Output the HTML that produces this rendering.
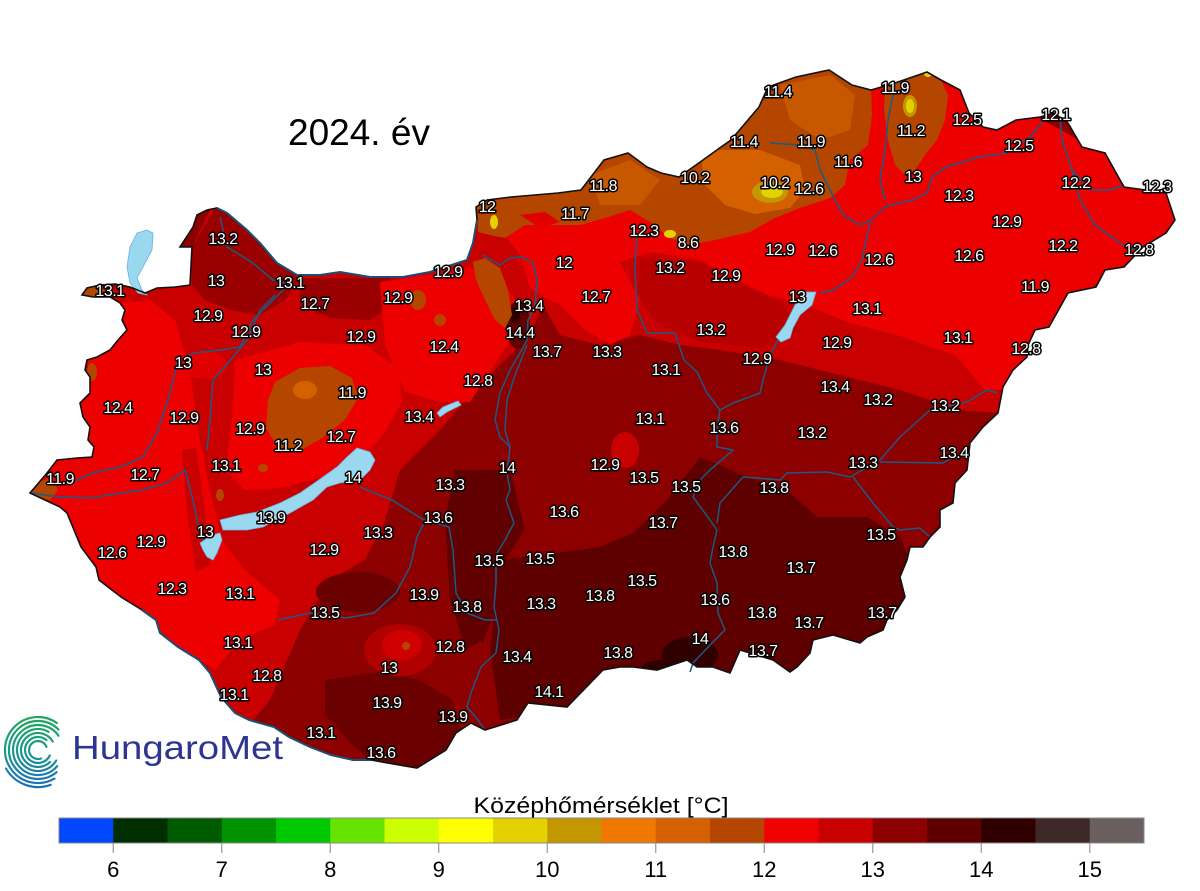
<!DOCTYPE html>
<html><head><meta charset="utf-8"><style>
html,body{margin:0;padding:0;background:#fff;}
svg{display:block;}
.l text{font-family:"Liberation Sans",Arial,sans-serif;font-size:16px;letter-spacing:-0.5px;fill:#fff;stroke:#000;stroke-width:3px;stroke-linejoin:round;paint-order:stroke;text-anchor:middle;}
</style></head><body>
<svg width="1200" height="891" viewBox="0 0 1200 891" xmlns="http://www.w3.org/2000/svg">
<defs>
<clipPath id="hu"><path id="hup" d="M30,493 L47,473 57,460 77,458 92,457 94,447 88,440 90,427 83,417 80,403 90,393 90,377 85,370 87,360 97,357 110,350 118,340 127,330 122,320 125,310 120,303 110,297 93,297 82,295 87,288 100,285 115,284 130,287 145,293 157,288 175,287 190,285 192,247 180,247 193,227 197,215 207,210 217,208 227,213 247,230 260,243 277,263 297,275 320,275 340,272 370,277 403,277 430,272 467,260 473,243 477,220 476,207 487,200 511,197 558,193 581,190 604,160 628,153 647,167 661,173 679,177 703,160 721,147 731,140 759,107 768,87 796,77 829,70 852,85 871,90 895,83 927,72 941,80 960,90 969,113 983,127 997,130 1016,120 1040,117 1054,113 1068,123 1082,147 1105,153 1124,187 1166,193 1175,220 1166,233 1143,247 1124,267 1105,270 1096,287 1068,293 1049,327 1035,330 1028,345 1027,357 1013,370 1003,387 998,413 983,427 970,443 967,470 955,483 953,503 940,510 940,527 930,537 923,547 910,547 907,560 900,577 905,597 897,610 887,620 883,630 867,637 860,643 833,635 813,640 810,653 797,667 790,672 773,660 740,650 730,673 713,667 697,667 687,660 657,670 633,667 620,667 603,670 567,707 528,703 517,720 485,730 471,723 456,733 446,750 417,768 399,765 371,760 353,760 331,755 310,747 289,737 274,727 249,720 235,713 221,697 210,673 199,660 178,647 160,633 156,620 142,610 121,597 99,580 96,567 81,547 67,513 60,507 45,500 Z"/></clipPath>
<linearGradient id="lg" x1="0" y1="716" x2="0" y2="786" gradientUnits="userSpaceOnUse">
<stop offset="0" stop-color="#23a65a"/><stop offset="0.5" stop-color="#1a9a8a"/><stop offset="1" stop-color="#1f6fb8"/></linearGradient>
</defs>
<rect width="1200" height="891" fill="#fff"/>

<text x="288" y="145" font-family="Liberation Sans,Arial,sans-serif" font-size="37" fill="#000">2024. év</text>

<g clip-path="url(#hu)">
<rect x="0" y="0" width="1200" height="800" fill="#8c0000"/>
<path fill="#c80000" d="M20,490 L80,400 L70,290 L190,280 L195,240 L215,200 L280,255 L340,265 L430,265 L480,210 L530,250 L545,300 L530,335 L505,360 L470,395 L440,430 L400,470 L385,520 L365,560 L330,580 L300,630 L270,700 L245,730 L150,650 L60,520 Z"/>
<path fill="#c80000" d="M477,200 L1180,190 L1180,240 L1049,327 L998,413 L960,410 L900,390 L840,375 L780,360 L720,350 L680,345 L640,335 L600,345 L560,335 L540,300 L520,255 Z"/>
<path fill="#9a0000" d="M192,247 L217,205 L250,230 L280,262 L300,278 L285,300 L260,315 L230,310 L205,300 L192,285 Z"/>
<path fill="#9a0000" d="M300,278 L390,278 L400,300 L370,320 L330,318 L300,305 Z"/>
<path fill="#ec0000" d="M20,490 L57,460 L92,457 L88,440 L80,403 L90,377 L87,360 L110,350 L127,330 L120,303 L150,300 L175,320 L190,370 L198,430 L210,490 L222,540 L245,570 L280,600 L275,625 L240,640 L215,670 L160,635 L100,582 L70,520 Z"/>
<path fill="#c80000" d="M182,450 L196,448 L206,520 L210,565 L196,572 L188,520 Z"/>
<path fill="#ec0000" d="M235,360 L300,342 L365,345 L398,368 L402,402 L385,432 L360,462 L320,478 L280,488 L245,490 L225,470 L232,420 Z"/>
<path fill="#ec0000" d="M380,282 L470,268 L500,278 L515,300 L510,340 L490,372 L470,402 L440,402 L405,392 L385,345 Z"/>
<path fill="#ec0000" d="M477,200 L600,150 L760,75 L960,75 L1180,195 L1180,235 L1100,280 L1049,327 L1003,390 L985,390 L955,355 L900,336 L850,323 L800,303 L770,296 L740,282 L700,260 L650,252 L620,262 L640,300 L630,335 L610,345 L585,330 L560,305 L545,298 L530,288 L520,255 Z"/>
<path fill="#b80000" d="M640,258 L700,262 L740,284 L780,302 L800,330 L760,348 L700,342 L655,322 L638,292 Z"/>
<ellipse cx="625" cy="450" rx="14" ry="18" fill="#c80000"/>
<ellipse cx="205" cy="365" rx="22" ry="14" fill="#e00000"/>
<ellipse cx="518" cy="325" rx="12" ry="24" fill="#5e0000"/>
<ellipse cx="514" cy="315" rx="6" ry="8" fill="#300000"/>
<path fill="#600000" d="M455,470 L480,470 L487,560 L482,640 L466,650 L450,600 L445,520 Z"/>
<path fill="#5e0000" d="M600,547 L633,533 L667,500 L700,457 L747,477 L787,490 L817,517 L867,517 L900,537 L910,560 L910,660 L500,720 L490,650 L495,600 L500,560 L540,555 Z"/>
<path fill="#600000" d="M480,470 L510,470 L525,530 L505,560 L495,610 L482,645 L472,600 L476,530 Z"/>
<path fill="#6a0000" d="M325,680 L380,672 L420,680 L452,700 L462,732 L446,752 L417,770 L399,767 L371,762 L350,742 L325,715 Z"/>
<ellipse cx="358" cy="592" rx="42" ry="20" fill="#6a0000"/>
<ellipse cx="400" cy="650" rx="36" ry="26" fill="#b00000"/>
<ellipse cx="402" cy="645" rx="20" ry="15" fill="#d00000"/>
<ellipse cx="406" cy="646" rx="4" ry="4" fill="#b44600"/>
<ellipse cx="690" cy="655" rx="28" ry="18" fill="#300000"/>
<ellipse cx="660" cy="668" rx="18" ry="8" fill="#300000"/>
<path fill="#b44600" d="M477,205 L487,200 L511,197 L558,193 L581,190 L604,160 L628,153 L647,167 L661,173 L679,177 L703,160 L721,147 L731,140 L759,107 L768,87 L796,77 L829,70 L852,85 L871,90 L872,115 L868,145 L850,160 L845,185 L830,198 L800,208 L775,218 L750,232 L715,240 L690,245 L670,238 L650,222 L630,210 L605,218 L580,225 L550,225 L525,225 L505,238 L490,235 L478,232 Z"/>
<path fill="#e00000" d="M520,215 L545,212 L560,222 L540,228 Z"/>
<path fill="#d46000" d="M700,150 L760,150 L800,165 L805,190 L790,208 L755,214 L725,205 L705,185 Z"/>
<path fill="#c85800" d="M780,85 L830,75 L855,95 L850,130 L820,140 L790,120 Z"/>
<path fill="#c85800" d="M590,175 L630,160 L660,180 L640,205 L600,205 Z"/>
<ellipse cx="770" cy="192" rx="18" ry="11" fill="#c49600"/>
<ellipse cx="772" cy="192" rx="11" ry="6" fill="#e4d200"/>
<ellipse cx="494" cy="222" rx="4" ry="7" fill="#e4d200"/>
<ellipse cx="670" cy="234" rx="6" ry="4" fill="#e4d200"/>
<path fill="#b44600" d="M885,85 L927,72 L941,80 L948,95 L945,120 L937,140 L925,155 L915,170 L905,175 L895,165 L888,140 L884,110 Z"/>
<ellipse cx="910" cy="106" rx="7" ry="11" fill="#c49600"/>
<ellipse cx="910" cy="106" rx="4" ry="7" fill="#e4d200"/>
<ellipse cx="928" cy="74" rx="4" ry="3" fill="#e4d200"/>
<path fill="#b44600" d="M473,262 L485,258 L500,268 L508,290 L512,315 L505,328 L495,320 L485,300 L476,280 Z"/>
<ellipse cx="418" cy="300" rx="8" ry="10" fill="#b44600"/>
<ellipse cx="440" cy="320" rx="6" ry="6" fill="#b44600"/>
<path fill="#b44600" d="M275,382 L300,368 L330,366 L352,378 L358,398 L345,420 L322,438 L298,452 L278,448 L266,428 L268,400 Z"/>
<ellipse cx="305" cy="390" rx="12" ry="9" fill="#d46000"/>
<ellipse cx="263" cy="468" rx="5" ry="4" fill="#b44600"/>
<ellipse cx="220" cy="495" rx="4" ry="6" fill="#b44600"/>
<path fill="#b44600" d="M20,492 L38,482 L52,478 L58,490 L50,500 L38,498 Z"/>
<path fill="#b44600" d="M78,296 L87,288 L100,284 L106,292 L98,300 L86,299 Z"/>
<ellipse cx="92" cy="372" rx="5" ry="9" fill="#b44600"/>
</g>

<g fill="none" stroke="#1c5a85" stroke-width="1.5" stroke-linejoin="round">
<path d="M482,255 L500,265 L510,258 L522,257 L533,263 L537,280 L535,307 L528,320 L527,340 L520,353 L510,370 L500,393 L495,420 L500,437 L510,447 L507,473 L510,490 L506,500 L514,523 L505,540 L496,555 L496,583 L494,607 L499,630 L496,653 L481,667 L471,693 L467,707 L478,720 L485,730"/>
<path d="M527,345 L515,375 L507,400 L505,430 L510,447"/>
<path d="M1060,118 L1062,140 L1072,170 L1090,190 L1110,190 L1124,185"/>
<path d="M1072,170 L1080,200 L1095,225 L1130,250 L1143,247"/>
<path d="M1044,120 L1030,137 L1007,153 L979,157 L946,167 L932,177 L927,193 L913,200 L899,203 L885,207 L871,220 L866,240 L862,260 L852,277 L834,290 L820,293"/>
<path d="M895,85 L888,120 L885,150 L880,180 L885,200"/>
<path d="M770,143 L800,145 L815,150 L820,170 L830,190 L843,215 L860,225 L871,220"/>
<path d="M778,340 L770,355 L763,380 L760,393 L733,403 L720,410 L717,430 L717,447 L733,450 L710,470 L700,480 L693,497 L710,520 L717,530 L713,547 L710,563 L717,583 L718,613 L725,630 L713,642 L693,663 L690,672"/>
<path d="M637,233 L635,267 L637,310 L647,333 L675,333 L684,360 L697,372 L707,393 L720,410"/>
<path d="M997,393 L987,390 L967,402 L930,410 L900,437 L880,460 L850,477 L827,472 L787,473 L780,480 L757,478 L743,477 L720,503 L717,523"/>
<path d="M880,462 L943,463 L953,457"/>
<path d="M853,477 L873,503 L893,527 L900,530 L920,528 L930,537"/>
<path d="M70,483 L93,473 L120,467 L143,457 L157,433 L170,393 L177,363 L193,353 L220,350 L240,347 L253,320 L273,300 L283,290 L290,280"/>
<path d="M207,450 L210,420 L213,380 L233,357 L247,340 L260,310 L275,295"/>
<path d="M30,493 L60,497 L89,498 L142,490 L167,483 L185,470 L193,500 L200,533 L205,545"/>
<path d="M220,217 L227,247 L253,263 L273,280 L290,285"/>
<path d="M360,487 L392,500 L424,520 L449,527 L453,550 L456,593 L467,613 L485,620 L496,620"/>
<path d="M278,620 L310,613 L346,618 L374,613 L396,593 L410,567 L417,537 L424,523"/>
</g>

<g fill="#9ad8f0" stroke="#6aaee0" stroke-width="0.8">
<path d="M137,233 L147,230 L153,233 L152,250 L143,267 L137,278 L142,290 L147,295 L138,293 L130,283 L127,267 L130,247 Z"/>
<path d="M220,520 L223,530 L247,530 L263,527 L290,513 L313,500 L327,487 L340,483 L360,480 L370,470 L375,460 L370,452 L357,448 L347,457 L337,467 L323,477 L300,493 L280,503 L257,512 L240,515 Z"/>
<path d="M212,535 L220,533 L222,540 L217,553 L213,560 L207,557 L203,550 L200,543 Z"/>
<path d="M437,413 L443,407 L458,401 L461,405 L447,412 L440,417 Z"/>
<path d="M806,292 L816,292 L812,305 L800,315 L793,328 L790,338 L781,342 L776,337 L785,325 L795,305 Z"/>
</g>

<use href="#hup" fill="none" stroke="#111" stroke-width="1.6"/>
<g fill="none" stroke="#1d4e75" stroke-width="2">
<path d="M217,208 L227,213 L247,230 L260,243 L277,263 L297,275 L320,275 L340,272 L370,277 L403,277 L430,272 L467,260 L473,243 L477,220"/>
<path d="M142,610 L156,620 L160,633 L178,647 L199,660 L210,673 L221,697 L235,713 L249,720 L274,727 L289,737 L310,747 L331,755 L353,760 L371,760"/>
</g>

<g class="l">
<text x="778" y="97">11.4</text><text x="895" y="93">11.9</text><text x="967" y="125">12.5</text><text x="1056" y="120">12.1</text>
<text x="911" y="136">11.2</text><text x="744" y="147">11.4</text><text x="811" y="147">11.9</text><text x="1019" y="151">12.5</text>
<text x="848" y="167">11.6</text><text x="913" y="182">13</text><text x="695" y="183">10.2</text><text x="775" y="188">10.2</text>
<text x="809" y="194">12.6</text><text x="603" y="191">11.8</text><text x="1076" y="188">12.2</text><text x="1157" y="192">12.3</text>
<text x="959" y="201">12.3</text><text x="487" y="212">12</text><text x="575" y="219">11.7</text><text x="1007" y="227">12.9</text>
<text x="644" y="236">12.3</text><text x="688" y="248">8.6</text><text x="1063" y="251">12.2</text><text x="780" y="255">12.9</text>
<text x="823" y="256">12.6</text><text x="879" y="265">12.6</text><text x="969" y="261">12.6</text><text x="1139" y="255">12.8</text>
<text x="564" y="268">12</text><text x="670" y="273">13.2</text><text x="726" y="281">12.9</text><text x="1035" y="292">11.9</text>
<text x="596" y="302">12.7</text><text x="797" y="302">13</text><text x="529" y="311">13.4</text><text x="867" y="314">13.1</text>
<text x="520" y="338">14.4</text><text x="711" y="335">13.2</text><text x="958" y="343">13.1</text><text x="837" y="348">12.9</text>
<text x="547" y="357">13.7</text><text x="607" y="357">13.3</text><text x="1026" y="354">12.8</text><text x="757" y="364">12.9</text>
<text x="666" y="375">13.1</text><text x="835" y="392">13.4</text><text x="878" y="405">13.2</text><text x="945" y="411">13.2</text>
<text x="650" y="424">13.1</text><text x="724" y="433">13.6</text><text x="812" y="438">13.2</text><text x="954" y="458">13.4</text>
<text x="863" y="468">13.3</text><text x="605" y="470">12.9</text><text x="644" y="483">13.5</text><text x="686" y="492">13.5</text>
<text x="774" y="493">13.8</text><text x="663" y="528">13.7</text><text x="881" y="540">13.5</text><text x="733" y="557">13.8</text>
<text x="801" y="573">13.7</text><text x="642" y="586">13.5</text><text x="715" y="605">13.6</text><text x="762" y="618">13.8</text>
<text x="809" y="628">13.7</text><text x="882" y="618">13.7</text><text x="700" y="644">14</text><text x="763" y="656">13.7</text>
<text x="618" y="658">13.8</text>
<text x="223" y="244">13.2</text><text x="216" y="286">13</text><text x="290" y="288">13.1</text><text x="110" y="296">13.1</text>
<text x="448" y="277">12.9</text><text x="315" y="309">12.7</text><text x="398" y="303">12.9</text><text x="208" y="321">12.9</text>
<text x="246" y="337">12.9</text><text x="361" y="342">12.9</text><text x="444" y="352">12.4</text><text x="183" y="368">13</text>
<text x="263" y="375">13</text><text x="478" y="386">12.8</text><text x="352" y="398">11.9</text><text x="118" y="413">12.4</text>
<text x="184" y="423">12.9</text><text x="419" y="422">13.4</text><text x="250" y="434">12.9</text><text x="288" y="451">11.2</text>
<text x="341" y="442">12.7</text><text x="507" y="473">14</text><text x="226" y="471">13.1</text><text x="145" y="480">12.7</text>
<text x="60" y="484">11.9</text><text x="450" y="490">13.3</text><text x="353" y="483">14</text>
<text x="438" y="523">13.6</text><text x="271" y="523">13.9</text><text x="205" y="537">13</text><text x="378" y="538">13.3</text>
<text x="151" y="547">12.9</text><text x="112" y="558">12.6</text><text x="324" y="555">12.9</text><text x="489" y="566">13.5</text>
<text x="540" y="564">13.5</text><text x="564" y="517">13.6</text><text x="172" y="594">12.3</text><text x="240" y="599">13.1</text>
<text x="424" y="600">13.9</text><text x="325" y="618">13.5</text><text x="467" y="612">13.8</text><text x="541" y="609">13.3</text>
<text x="600" y="601">13.8</text><text x="238" y="648">13.1</text><text x="450" y="652">12.8</text><text x="517" y="662">13.4</text>
<text x="389" y="673">13</text><text x="267" y="681">12.8</text><text x="234" y="700">13.1</text><text x="549" y="697">14.1</text>
<text x="387" y="708">13.9</text><text x="453" y="722">13.9</text><text x="321" y="738">13.1</text><text x="381" y="758">13.6</text>
</g>

<g fill="none" stroke="url(#lg)" stroke-width="2.2" stroke-linecap="round">
<path d="M56.9,723 A33,33 0 1 0 54.5,778.6"/>
<path d="M58.5,729.5 A29,29 0 1 0 56.6,772.2"/>
<path d="M58.5,735.7 A25,25 0 1 0 57.2,766.1"/>
<path d="M48.5,731.8 A21,21 0 1 0 56.2,760.5"/>
<path d="M52.7,741.5 A17,17 0 1 0 50,762"/>
<path d="M46.4,740 A13,13 0 1 0 49.8,755.5"/>
<path d="M46.5,746.9 A9,9 0 1 0 41.1,758.5"/>
<path d="M50.7,784.8 A37,37 0 0 1 6,768.5"/>
</g>
<text x="72" y="759" font-family="Liberation Sans,Arial,sans-serif" font-size="33" fill="#2e3590" textLength="211" lengthAdjust="spacingAndGlyphs">HungaroMet</text>

<text x="601" y="813" font-family="Liberation Sans,Arial,sans-serif" font-size="22" fill="#000" text-anchor="middle" textLength="255" lengthAdjust="spacingAndGlyphs">Középhőmérséklet [°C]</text>
<g>
<rect x="59" y="818" width="54.5" height="25" fill="#0048ff"/>
<rect x="113.25" y="818" width="54.5" height="25" fill="#002e00"/>
<rect x="167.5" y="818" width="54.5" height="25" fill="#005a00"/>
<rect x="221.75" y="818" width="54.5" height="25" fill="#009200"/>
<rect x="276" y="818" width="54.5" height="25" fill="#00c800"/>
<rect x="330.25" y="818" width="54.5" height="25" fill="#66e400"/>
<rect x="384.5" y="818" width="54.5" height="25" fill="#ccff00"/>
<rect x="438.75" y="818" width="54.5" height="25" fill="#ffff00"/>
<rect x="493" y="818" width="54.5" height="25" fill="#e4d200"/>
<rect x="547.25" y="818" width="54.5" height="25" fill="#c49600"/>
<rect x="601.5" y="818" width="54.5" height="25" fill="#f07800"/>
<rect x="655.75" y="818" width="54.5" height="25" fill="#d46000"/>
<rect x="710" y="818" width="54.5" height="25" fill="#b44600"/>
<rect x="764.25" y="818" width="54.5" height="25" fill="#f00000"/>
<rect x="818.5" y="818" width="54.5" height="25" fill="#c80000"/>
<rect x="872.75" y="818" width="54.5" height="25" fill="#8c0000"/>
<rect x="927" y="818" width="54.5" height="25" fill="#5e0000"/>
<rect x="981.25" y="818" width="54.5" height="25" fill="#300000"/>
<rect x="1035.5" y="818" width="54.5" height="25" fill="#3e2828"/>
<rect x="1089.75" y="818" width="54.25" height="25" fill="#6a5e5e"/>
<rect x="59" y="818" width="1085" height="25" fill="none" stroke="#888" stroke-width="1"/>
</g>
<g stroke="#999" stroke-width="1.2">
<line x1="113.25" y1="843" x2="113.25" y2="853"/><line x1="221.75" y1="843" x2="221.75" y2="853"/>
<line x1="330.25" y1="843" x2="330.25" y2="853"/><line x1="438.75" y1="843" x2="438.75" y2="853"/>
<line x1="547.25" y1="843" x2="547.25" y2="853"/><line x1="655.75" y1="843" x2="655.75" y2="853"/>
<line x1="764.25" y1="843" x2="764.25" y2="853"/><line x1="872.75" y1="843" x2="872.75" y2="853"/>
<line x1="981.25" y1="843" x2="981.25" y2="853"/><line x1="1089.75" y1="843" x2="1089.75" y2="853"/>
</g>
<g font-family="Liberation Sans,Arial,sans-serif" font-size="22" fill="#000" text-anchor="middle">
<text x="113.25" y="877">6</text><text x="221.75" y="877">7</text><text x="330.25" y="877">8</text>
<text x="438.75" y="877">9</text><text x="547.25" y="877">10</text><text x="655.75" y="877">11</text>
<text x="764.25" y="877">12</text><text x="872.75" y="877">13</text><text x="981.25" y="877">14</text>
<text x="1089.75" y="877">15</text>
</g>
</svg>
</body></html>
